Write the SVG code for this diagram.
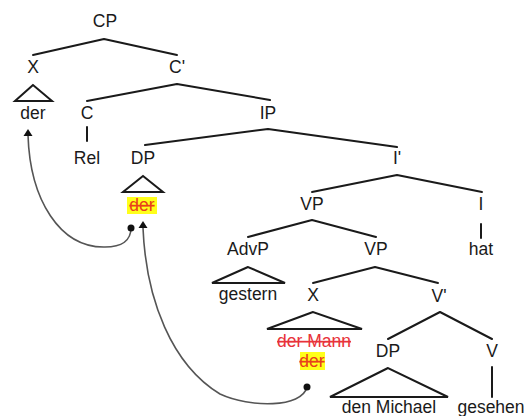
<svg xmlns="http://www.w3.org/2000/svg" width="530" height="416" viewBox="0 0 530 416">
  <style>
    text { font-family: "Liberation Sans", Arial, sans-serif; font-size: 17.5px; fill: #1a1a1a; text-anchor: middle; }
    .edge { stroke: #1a1a1a; stroke-width: 2; fill: none; stroke-linecap: round; stroke-linejoin: round; }
    .tri { stroke: #1a1a1a; stroke-width: 2; fill: #fff; stroke-linejoin: miter; }
    .move { stroke: #555; stroke-width: 1.6; fill: none; }
    .head { fill: #111; }
    .del { fill: #e8323a; text-decoration: line-through; }
    .trace { fill: #e8401c; text-decoration: line-through; }
    .hl { fill: #ffff1a; }
  </style>

  <!-- tree branches -->
  <g id="connectors">
    <polyline class="edge" points="33,55 104,39 177,55"/>
    <polyline class="edge" points="87,101 177,84 270,100"/>
    <line class="edge" x1="87" y1="127" x2="87" y2="141"/>
    <polyline class="edge" points="145,145 268,129 397,147"/>
    <polyline class="edge" points="312,192 397,175 482,192"/>
    <line class="edge" x1="481" y1="224" x2="481" y2="238"/>
    <polyline class="edge" points="248,237 312,220 376,237"/>
    <polyline class="edge" points="313,283 375,267 438,283"/>
    <polyline class="edge" points="388,339 440,312 492,339"/>
    <line class="edge" x1="492" y1="367" x2="492" y2="397"/>
  </g>

  <!-- movement arrows: dot at the launch site, arrowhead at the landing site -->
  <g id="movement">
    <path class="move" d="M131,228 C131,240 122,247 105,247 C60,248 30,200 28,135"/>
    <polygon class="head" points="28,129 23.5,136 32.5,136"/>
    <circle class="head" cx="131" cy="228" r="3.5"/>
    <path class="move" d="M307,387 C302,408 250,408 220,394 C172,365 146,300 143,228"/>
    <polygon class="head" points="143,221 138.5,228 147.5,228"/>
    <circle class="head" cx="307" cy="387" r="3.5"/>
  </g>

  <g id="CP"><text x="105" y="27">CP</text></g>
  <g id="X1">
    <text x="33" y="73">X</text>
    <polygon class="tri" points="33,85 15,101 52,101"/>
    <text x="33" y="119">der</text>
  </g>
  <g id="Cbar"><text x="177" y="73">C'</text></g>
  <g id="C">
    <text x="87" y="119">C</text>
    <text x="87" y="164">Rel</text>
  </g>
  <g id="IP"><text x="268" y="119">IP</text></g>
  <g id="DP1">
    <text x="143" y="164">DP</text>
    <polygon class="tri" points="143,176 123,192 163,192"/>
    <rect class="hl" x="127" y="197" width="30" height="17"/>
    <text class="trace" x="142" y="211">der</text>
  </g>
  <g id="Ibar"><text x="397" y="164">I'</text></g>
  <g id="VP1"><text x="312" y="210">VP</text></g>
  <g id="I">
    <text x="481" y="210">I</text>
    <text x="481" y="255">hat</text>
  </g>
  <g id="AdvP">
    <text x="248" y="255">AdvP</text>
    <polygon class="tri" points="248,267 212,283 285,283"/>
    <text x="248" y="300">gestern</text>
  </g>
  <g id="VP2"><text x="376" y="255">VP</text></g>
  <g id="X2">
    <text x="313" y="301">X</text>
    <polygon class="tri" points="313,312 267,329 362,329"/>
    <text class="del" x="314" y="347">der Mann</text>
    <rect class="hl" x="300" y="352" width="25" height="18"/>
    <text class="trace" x="312" y="367">der</text>
  </g>
  <g id="Vbar"><text x="439" y="302">V'</text></g>
  <g id="DP2">
    <text x="388" y="357">DP</text>
    <polygon class="tri" points="388,368 330,397 448,397"/>
    <text x="389" y="413">den Michael</text>
  </g>
  <g id="V">
    <text x="492" y="357">V</text>
    <text x="491" y="413">gesehen</text>
  </g>
</svg>
